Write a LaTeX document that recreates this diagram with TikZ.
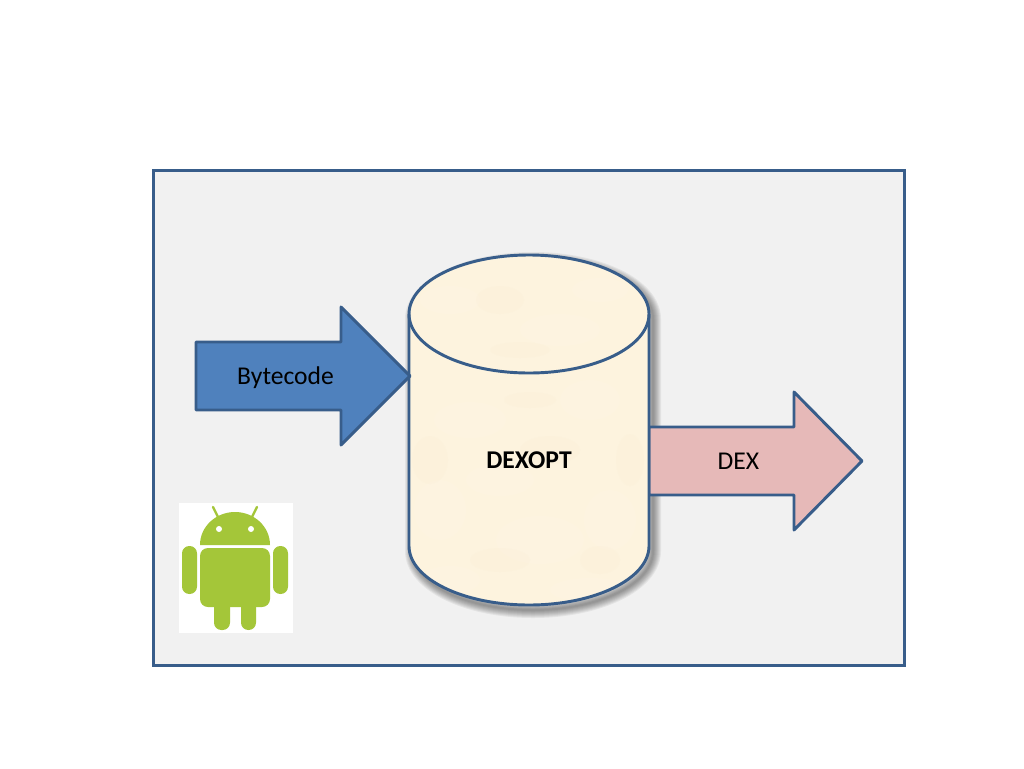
\documentclass[tikz,border=0pt]{standalone}
\usepackage{fontspec}
\setmainfont{Carlito}
\definecolor{edgeblue}{HTML}{385D8A}
\definecolor{panelgrey}{HTML}{F1F1F1}
\definecolor{arrowblue}{HTML}{4F81BD}
\definecolor{arrowpink}{HTML}{E6B9B8}
\definecolor{cream}{HTML}{FDF3DE}
\definecolor{creamlight}{HTML}{FEF6E6}
\definecolor{creamdark}{HTML}{FAEDD2}
\definecolor{droid}{HTML}{A4C639}
\tikzset{
  shapeline/.style={draw=edgeblue,line width=2.2pt,line join=round},
  label/.style={font=\fontsize{19.2pt}{23pt}\selectfont,text=black,inner sep=0pt},
  droidpart/.style={fill=droid,draw=none},
  blotch/.style={fill=creamlight,opacity=.25,draw=none},
  blotchdark/.style={fill=creamdark,opacity=.18,draw=none},
}
\newcommand{\cylpath}{(409,314) arc[x radius=120,y radius=59,start angle=180,end angle=360] -- (649,546) arc[x radius=120,y radius=59,start angle=0,end angle=180] -- cycle}
\begin{document}
\begin{tikzpicture}[x=0.75pt,y=-0.75pt]
\useasboundingbox (0,0) rectangle (1024,768);
\fill[white] (0,0) rectangle (1024,768);
% panel
\draw[fill=panelgrey,draw=edgeblue,line width=1.7pt] (153.5,170.5) rectangle (904.5,665.5);
% cylinder shadow
\foreach \r in {16,14,12,10,8,6,4,2}{
  \begin{scope}[shift={(4,5)}]
    \draw[black,opacity=.055,line join=round,line width=\r*0.75pt] \cylpath;
  \end{scope}
}
% DEX arrow
\draw[shapeline,fill=arrowpink] (649,427) -- (794,427) -- (794,392) -- (862,461) -- (794,530) -- (794,495) -- (649,495) -- cycle;
% cylinder
\fill[cream] \cylpath;
\begin{scope}
\clip \cylpath;
\foreach \x/\y/\a/\b in {450/300/30/14,560/330/40/16,600/290/28/12,470/420/36/18,590/400/30/20,440/510/26/30,540/540/44/24,610/520/26/30,500/480/34/16,590/590/40/12,450/580/30/14}{
  \fill[blotch] (\x,\y) ellipse[x radius=\a,y radius=\b];
}
\foreach \x/\y/\a/\b in {500/300/24/14,520/350/30/8,430/460/18/24,550/450/30/14,630/460/14/26,500/560/30/12,600/560/20/14,530/400/26/8}{
  \fill[blotchdark] (\x,\y) ellipse[x radius=\a,y radius=\b];
}
\end{scope}
\draw[shapeline] \cylpath;
\draw[shapeline] (409,314) arc[x radius=120,y radius=59,start angle=180,end angle=0];
% Bytecode arrow
\draw[shapeline,fill=arrowblue] (196,342) -- (341,342) -- (341,307) -- (410,376) -- (341,445) -- (341,410) -- (196,410) -- cycle;
% labels
\node[label] (bytecode) at (285.5,378) {Bytecode};
\node[label] (dex) at (738.5,461) {DEX};
\node[label,font=\fontsize{19.2pt}{23pt}\selectfont\bfseries] (dexopt) at (529,460) {DEXOPT};
% android logo
\fill[white] (179,503) rectangle (293,633);
\draw[droid,line width=1.8pt,line cap=round] (218,517) -- (213,507);
\draw[droid,line width=1.8pt,line cap=round] (252,517) -- (257,507);
\fill[droidpart] (200,545) arc[x radius=35,y radius=33,start angle=180,end angle=360] -- cycle;
\fill[white] (219,529) circle[radius=3];
\fill[white] (251,529) circle[radius=3];
\fill[droidpart,rounded corners=6pt] (200,548) -- (270,548) -- (270,607) -- (200,607) -- cycle;
\fill[droidpart,rounded corners=5.5pt] (182,546) rectangle (197,594);
\fill[droidpart,rounded corners=5.5pt] (273,546) rectangle (288,594);
\fill[droidpart,rounded corners=5.5pt] (214,595) rectangle (230,630);
\fill[droidpart,rounded corners=5.5pt] (241,595) rectangle (256,630);
\end{tikzpicture}
\end{document}
